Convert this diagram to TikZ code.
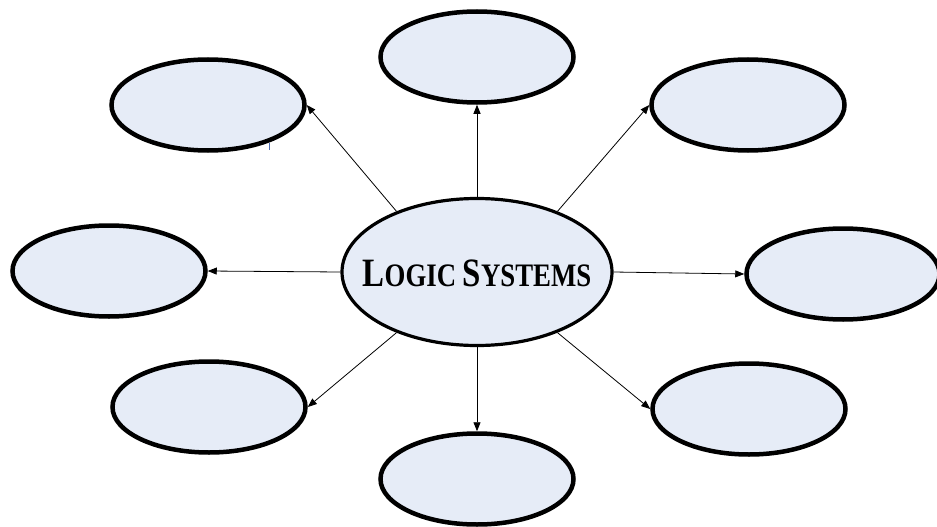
\documentclass[tikz,border=0pt]{standalone}
\usepackage{fontspec}
\setmainfont{Liberation Serif}
\usetikzlibrary{shapes.geometric,arrows.meta}
\definecolor{bubblefill}{HTML}{E6ECF7}
\tikzset{
  bubble/.style={ellipse, draw=black, fill=bubblefill, line width=4.5pt,
    inner sep=0pt, minimum width=193pt, minimum height=91pt},
  hub/.style={ellipse, draw=black, fill=bubblefill, line width=3.2pt,
    inner sep=0pt, minimum width=270pt, minimum height=147pt},
  hubtext/.style={inner sep=0pt,
    font=\bfseries\fontsize{28.5}{32}\selectfont},
  link/.style={draw=black, line width=0.8pt,
    -{Triangle[length=9pt,width=7pt]}}
}
\newcommand{\initialcap}[1]{{\fontsize{35}{40}\selectfont #1}}
\begin{document}
\begin{tikzpicture}[x=1pt,y=-1pt]
  \useasboundingbox (0,0) rectangle (937,527);

  % central topic
  \node[hub] (c) at (477,272) {};
  \node[hubtext] (ct) at (477,273)
    {\scalebox{0.94}[1.15]{\initialcap{L}OGIC \initialcap{S}YSTEMS}};

  % surrounding empty bubbles
  \node[bubble] (tl) at (208,105) {};
  \node[bubble] (t)  at (477,57)  {};
  \node[bubble] (tr) at (748,105) {};
  \node[bubble] (l)  at (109,271) {};
  \node[bubble] (r)  at (843,274) {};
  \node[bubble] (bl) at (209,407) {};
  \node[bubble] (b)  at (477,479) {};
  \node[bubble] (br) at (749,409) {};

  % spokes
  \draw[link] (c.143) -- (tl.east);
  \draw[link] (c.north) -- (t.south);
  \draw[link] (c.37) -- (tr.west);
  \draw[link] (c.west) -- (l.east);
  \draw[link] (c.east) -- (r.west);
  \draw[link] (c.217) -- (bl.east);
  \draw[link] (c.south) -- (b.north);
  \draw[link] (c.323) -- (br.west);

  % small tick under the upper-left bubble
  \draw[color={rgb,255:red,80;green,110;blue,180}, line width=0.8pt]
    (269,143) -- (269,150);
\end{tikzpicture}
\end{document}
